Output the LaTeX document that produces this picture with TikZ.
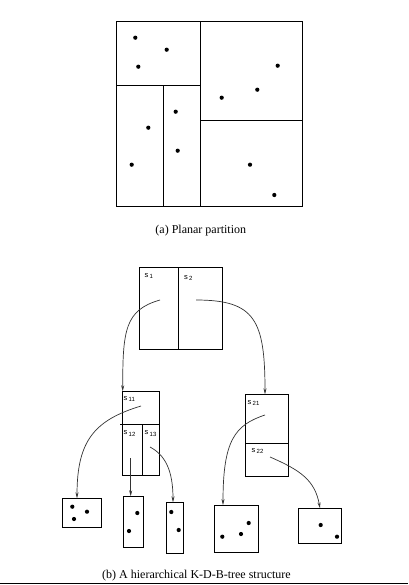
\documentclass[tikz,border=0pt]{standalone}
\usepackage{fontspec}
\setmainfont{Liberation Serif}
\newfontfamily\lblfont{Liberation Sans}
\usetikzlibrary{arrows.meta}

\tikzset{
  box/.style={draw,line width=1pt,inner sep=0pt,outer sep=0pt},
  link/.style={draw,line width=0.7pt,black!80,-{Stealth[length=6pt,width=3pt]}},
  lbl/.style={anchor=west,inner sep=0pt,font=\lblfont\fontsize{7.5}{8}\selectfont},
  dot/.style={fill=black}
}
\newcommand{\sublbl}[1]{s\,\raisebox{-1.5pt}{\fontsize{6}{6}\selectfont #1}}

\begin{document}
\begin{tikzpicture}[x=1pt,y=-1pt]
\useasboundingbox (0,0) rectangle (408,585);

% (a) planar partition
\draw[line width=1pt] (116,22) rectangle (302,206);
\draw[line width=1pt] (200.3,22) -- (200.3,206);
\draw[line width=1pt] (116,86) -- (200.3,86);
\draw[line width=1pt] (163.3,86) -- (163.3,206);
\draw[line width=1pt] (200.3,120.7) -- (302,120.7);
\foreach \px/\py in {135.3/37.7,166.7/49.7,138.3/66.7,277.7/65.7,257.3/89.7,221.7/97.7,
    175.7/111.7,148.3/127.7,177.7/150.7,131.7/164.7,250/164.7,274.3/195} {
  \fill[dot] (\px,\py) circle (2.1pt);
}
\node[font=\fontsize{12}{14}\selectfont] (capa) at (200.8,231) {(a) Planar partition};

% (b) K-D-B-tree
\node[box,minimum width=83pt,minimum height=82pt] (root) at (180.8,308.3) {};
\draw[line width=1pt] (178.3,267.3) -- (178.3,349.3);
\node[lbl] (s1) at (144.3,276) {\sublbl{1}};
\node[lbl] (s2) at (184,278) {\sublbl{2}};

\node[box,minimum width=37pt,minimum height=84pt] (n1) at (140.8,433.3) {};
\draw[line width=1pt] (120,424) -- (159.3,424);
\draw[line width=1pt] (142.3,424) -- (142.3,475.3);
\node[lbl] (s11) at (123.5,399) {\sublbl{11}};
\node[lbl] (s12) at (123.5,433.5) {\sublbl{12}};
\node[lbl] (s13) at (144.5,433.5) {\sublbl{13}};

\node[box,minimum width=43pt,minimum height=82pt] (n2) at (266.8,435.3) {};
\draw[line width=1pt] (245.3,443.3) -- (288.3,443.3);
\node[lbl] (s21) at (247.5,403) {\sublbl{21}};
\node[lbl] (s22) at (251.5,451) {\sublbl{22}};

% leaves
\node[box,minimum width=39pt,minimum height=29pt] (l1) at (81.8,512.8) {};
\node[box,minimum width=20pt,minimum height=51pt] (l2) at (133.3,521.8) {};
\node[box,minimum width=17.4pt,minimum height=51pt] (l3) at (175,527.8) {};
\node[box,minimum width=44.4pt,minimum height=47.3pt] (l4) at (236.5,528.7) {};
\node[box,minimum width=43.4pt,minimum height=35pt] (l5) at (320,525.8) {};
\foreach \px/\py in {72.3/506.7,87/511.7,74/519,137.3/513,129/531,171.3/512,178.7/530,
    248.7/523,241/534,222.3/536.7,320.7/525,337/536.7} {
  \fill[dot] (\px,\py) circle (2.1pt);
}

% pointers
\coordinate (p1) at (160,300);
\coordinate (p2) at (196,300);
\coordinate (p11) at (141,406);
\coordinate (p12) at (130.7,458);
\coordinate (p13) at (150,447);
\coordinate (p21) at (265,415);
\coordinate (p22) at (270,457);
\draw[link] (p1) .. controls (125,310) and (122.7,330) .. (n1.north -| 122.7,0);
\draw[link] (p2) .. controls (255,300) and (265,320) .. (n2.north -| 265,0);
\draw[link] (p11) .. controls (95,420) and (77,440) .. (l1.north -| 77,0);
\draw[link] (p12) -- (l2.north -| p12);
\draw[link] (p13) .. controls (165,455) and (173,470) .. (l3.north -| 173,0);
\draw[link] (p21) .. controls (235,425) and (223,440) .. (l4.north -| 223,0);
\draw[link] (p22) .. controls (300,470) and (315,480) .. (l5.north -| 320,0);

\node[font=\fontsize{12}{14}\selectfont] (capb) at (196.5,576) {(b) A hierarchical K-D-B-tree structure};
\draw[line width=1pt] (0,583.3) -- (408,583.3);
\end{tikzpicture}
\end{document}
